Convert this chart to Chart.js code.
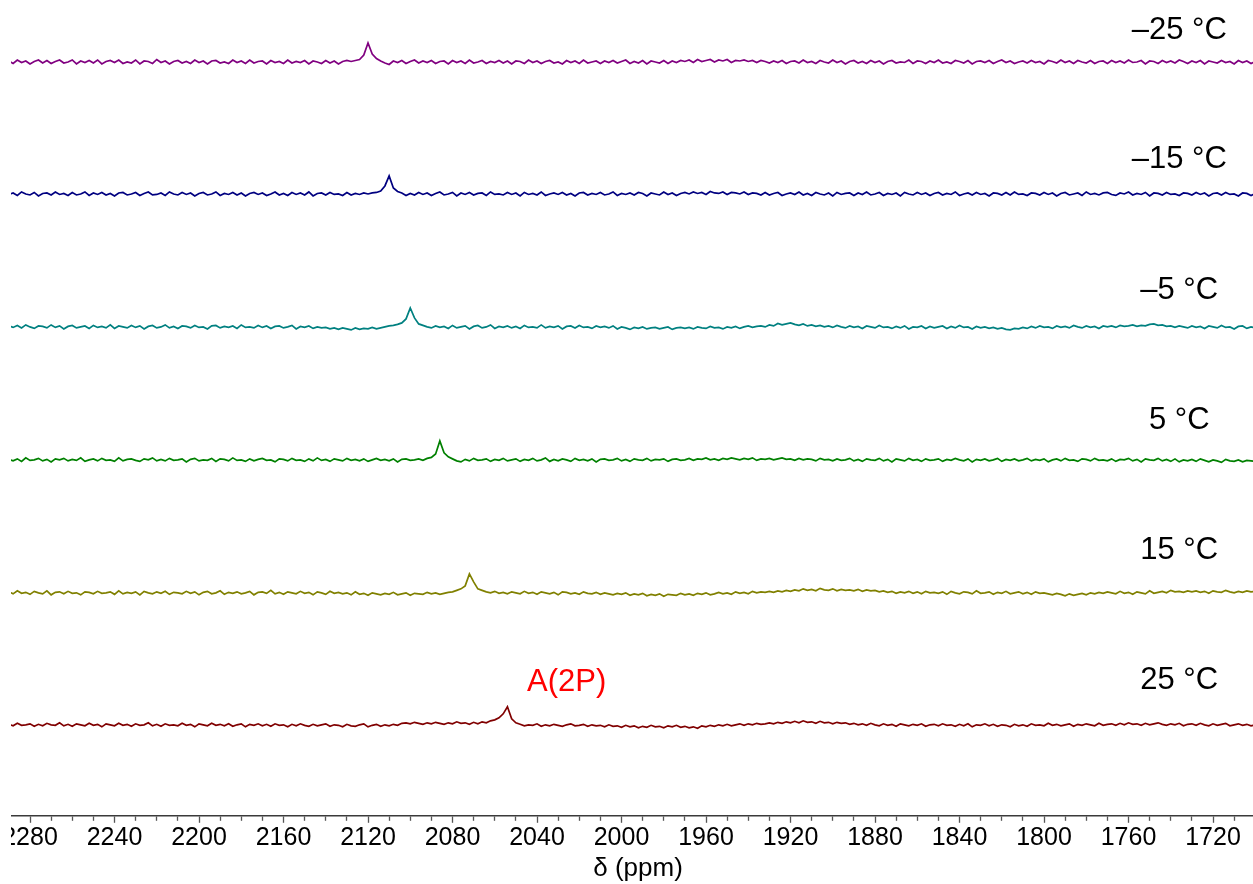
<!DOCTYPE html>
<html>
<head>
<meta charset="utf-8">
<script src="https://cdn.jsdelivr.net/npm/chart.js@4.4.1/dist/chart.umd.min.js"></script>
<style>
  html, body { margin: 0; padding: 0; background: #fff; overflow: hidden; width: 1253px; height: 884px; }
  #wrap { position: absolute; left: 11px; top: 0; width: 1242px; height: 884px; overflow: hidden; }
  #c { position: absolute; left: -51px; top: 0; }
</style>
</head>
<body>
<div id="wrap"><canvas id="c" width="1356" height="884"></canvas></div>
<script>
// ---- Data ----
// chemical shift grid: first point and step (ppm), points run left to right
const ppmFirst = 2290;
const ppmStep = 2;
const seriesNames = ['–25 °C', '–15 °C', '–5 °C', '5 °C', '15 °C', '25 °C'];
const peakLabel = 'A(2P)';
const tickLabelValues = [2280, 2240, 2200, 2160, 2120, 2080, 2040, 2000, 1960, 1920, 1880, 1840, 1800, 1760, 1720];

const intensityM25 = [
 1,-1.5,2,-0.5,1,-2,0.5,2,-1,1.5,-1.5,0.5,2,-1,0,2,-2,1,-0.5,1.5,
 -1,2,-2,0.5,1.5,-0.5,2,-1.5,0,-1,2,-2,1,0.5,-1.5,2.5,-0.5,1,-2,0.5,
 1.5,-1,0.5,-1.5,2,-0.5,1,-2,1,1.5,-1,0,-1.5,2,-0.5,1,-1.5,2,-1,0.5,
 1,-2,1.5,-0.5,0.5,-1.5,2,-1,0.5,-0.5,1.5,-2,1,0,-1.5,1.5,-1,1,-2,0.5,
 1.5,0.5,1.5,2.5,7,19,8,3.5,1,-1,-2.5,1,-0.5,1.5,-1.5,0.5,2,-1,1,-0.5,
 1.5,-1.5,0.5,1,-2,1.5,-0.5,1,-1.5,2,-1,0,1.5,-1.5,0.5,-0.5,1.5,-1,1,-2,
 1,0.5,-1.5,2,-0.5,1,-1.5,0.5,1.5,-1,0,-2,1.5,-0.5,1,-1.5,2,-1,0,1,
 -1.5,1,-0.5,1.5,-1,0.5,2,-1.5,0.5,-1,1.5,-2,1,0,-1,1.5,-1.5,1,-0.5,1.5,
 0.5,2,-0.5,2.5,0.5,1.5,2.5,0,2,1,2.5,-0.5,1.5,1,2,0.5,1.5,-0.5,1.5,0.5,
 -1,1,-0.5,1.5,-1.5,0.5,1,-1,2,-0.5,0.5,-1.5,1.5,0,-1,2,-0.5,1,-2,0.5,
 1.5,-1,0.5,-1.5,1.5,-0.5,1,-2,0.5,1.5,-1,0,-0.5,2,-1.5,1,0.5,-1.5,1,-0.5,
 2,-1,0,-1.5,1.5,0.5,-1,1.5,-2,0.5,1,-0.5,1.5,-1.5,0.5,2,-0.5,1,-1.5,0,
 1,-1,1.5,-0.5,0.5,-2,1.5,0.5,-1,2,-0.5,1,-1.5,1.5,0,-1,1.5,-1.5,0.5,1,
 -1.5,1.5,-0.5,1,-1,2,-0.5,0,1.5,-2,1,0.5,-1.5,1.5,-0.5,1,-1,2,0.5,-1.5,
 1,-0.5,1.5,-2,1,0,-1,1.5,-0.5,0.5,-2,1.5,-0.5,1,-1.5,0.5
];
const intensityM15 = [
 -0.5,1,-1.5,2,0,-1,1.5,-2,0.5,1,-1,2,-0.5,0.5,-1.5,1.5,-1,0,2,-1.5,
 1,-0.5,1.5,-1,0.5,-2,1,1.5,-1,0,1.5,-1.5,0.5,2,-1,-0.5,1,-1.5,2,0,
 -1,1.5,-0.5,1,-2,0.5,1.5,-1,0,2,-1.5,0.5,-0.5,1.5,-1,1,-2,0.5,1.5,-0.5,
 1,-1.5,0,2,-1,0.5,-1.5,1.5,-0.5,1,-1,2,-2,0.5,1,-1,1.5,-0.5,0,-1.5,
 1.5,-1,0.5,-0.5,1,0,1,1.5,3,8,18,6,2.5,1,-1.5,0.5,-1,1.5,-0.5,1,
 -1.5,0.5,2,-1,0,1.5,-2,1,-0.5,1.5,-1,0.5,1,-1.5,2,-0.5,0,-1,1.5,-0.5,
 1,-2,1.5,-0.5,0.5,-1,2,-1.5,0,1,-0.5,1.5,-1,0.5,-2,1,1.5,-1,0.5,-0.5,
 1.5,-1,0,2,-1.5,0.5,-0.5,1,-1,1.5,0.5,-2,1,0,-1,2,-0.5,1,-1.5,0.5,
 1.5,0,2,0.5,1.5,-0.5,2.5,1,0.5,2,-0.5,1.5,1,0,2,-0.5,1,0.5,-1,1.5,
 -1,0.5,1.5,-1.5,0,1,-0.5,2,-1,0.5,-1.5,1.5,0,-1,1,-2,1.5,-0.5,0.5,1,
 -1.5,1,-0.5,2,-1,0,1.5,-1.5,0.5,-0.5,1,-2,1.5,0,-1,1.5,-0.5,1,-1.5,0.5,
 1.5,-1,0.5,-0.5,2,-1.5,0,1,-1,1.5,-0.5,0.5,-2,1,0.5,-1,1.5,-1,2,-0.5,
 0,-1.5,1,0.5,-1,1.5,-0.5,1,-2,0.5,1.5,-1,0,1,-1.5,2,-0.5,0.5,-1,1,
 1.5,-0.5,-1.5,1,0,2,-1,0.5,-0.5,1.5,-2,1,0.5,-1,1.5,-0.5,0,-1.5,1,0.5,
 -1,1.5,-0.5,1,-2,0.5,1,-1,1.5,-0.5,0,-2,1,0.5,-1.5,0.5
];
const intensityM5 = [
 1,-0.5,1.5,-1,2,0,-1.5,1,0.5,-1,2,-0.5,1,-2,0.5,1.5,-1,0,1,-1.5,
 1.5,-0.5,0.5,-1,2,-1.5,1,0,-1,1.5,-0.5,1,-2,0.5,1.5,-1,0,2,-1,0.5,
 -1.5,1,0.5,-1,1.5,-0.5,0,-2,1,1.5,-1,0.5,-0.5,1,-1.5,2,-0.5,0,-1,1.5,
 -0.5,1,-1.5,0.5,1,-1,0,1.5,-2,0.5,-0.5,1,-1.5,0,-1,-0.5,-2,-1,-2.5,-1,
 -2,-3,-1,-2.5,-1.5,-2,-0.5,-2,-1,0,1,1.5,2.5,4,8,19,9,3,1.5,0,
 -1,1,-0.5,0.5,-1.5,1.5,-1,0,1,-2,0.5,1.5,-1,0,2,-1.5,0.5,-0.5,1,-1,
 0.5,-1.5,1.5,-0.5,0,-1,2,-1,0.5,-0.5,1,-2,0.5,1,-1,1.5,-0.5,0,-1.5,1,
 -0.5,0.5,-1,1,-2,0,-1,-2.5,-0.5,-1.5,0,-2,-1,-0.5,-2,-1,0,-2.5,-1,-0.5,
 -1.5,-0.5,-2,0,-1,-1.5,0.5,-1,-0.5,-2,0,-1,0.5,-1.5,0,1,-0.5,0.5,1,0,
 2,1,3.5,2,3,4,2.5,1.5,3,1,2,0.5,1.5,0,1,-0.5,1.5,0,-1,1,
 -0.5,0.5,-1.5,1,0,-1,1.5,-0.5,0,-1.5,0.5,-1,1,-2,0,-0.5,1,-1.5,0.5,-1,
 0,1,-1.5,0.5,-1,1.5,-0.5,0,-2,0.5,-1,0,-1.5,-0.5,-2,-1,-2.5,-3,-1.5,-2,
 -0.5,-1.5,0.5,-1,1,-0.5,0,-1.5,1,-0.5,0.5,-1,1.5,0,-1,1,-0.5,0.5,-1.5,1,
 0,1,-0.5,1.5,0.5,1,2,0.5,1.5,1,2.5,3,1.5,2,0.5,1,-0.5,1,0,-1,
 1,-0.5,0.5,-1.5,1,0,-1,1.5,-0.5,0,-2,0.5,1,-1.5,0,-1
];
const intensityP5 = [
 0.5,-1,1,-1.5,2,-0.5,0,1.5,-1,0.5,-2,1,0,1.5,-1,0.5,-0.5,2,-1.5,0,
 1,-1,1.5,-0.5,0,-1.5,2,-1,0.5,1,-0.5,-1.5,1,0,2,-1,0.5,-1,1.5,-0.5,
 0,1,-2,0.5,1.5,-1,0,-0.5,1.5,-1.5,1,0.5,-1,2,-0.5,0,-1.5,1,-1,0.5,
 1.5,-0.5,0,-2,1,0.5,-1,1.5,-0.5,0,-1.5,1,-1,2,-0.5,0.5,-1.5,1,0,-1,
 1.5,-0.5,0.5,-1,1,-1.5,0,1.5,-0.5,0.5,-1,1,-2,0.5,1,-0.5,0,1,-0.5,1.5,
 2.5,6,19,7,3,1,-1,-2,0.5,-1,1.5,-0.5,0,1,-1.5,0.5,-0.5,1.5,-1,0,
 1,-1.5,0.5,-0.5,1.5,-1,0,2,-1.5,0.5,-1,1,0,-1.5,1.5,-0.5,0.5,-1,1,-2,
 0.5,1,-0.5,0,1.5,-1,0.5,-1.5,1,0,-0.5,1.5,-1,0.5,0,1,-1.5,0.5,1,-0.5,
 0,1.5,-0.5,1,0.5,2,0,1,-0.5,1.5,0.5,2,1,0,1.5,0.5,2,-0.5,1,0.5,
 1.5,0,1,2,0.5,1,-0.5,1.5,0,1,0.5,-1,1.5,0,0.5,-1,1,-0.5,0,1.5,
 -1,0.5,-1.5,1,0,-0.5,1.5,-1,0.5,-2,1,0,-1,1.5,-0.5,0.5,-1.5,1,-0.5,0,
 1,-1.5,0.5,-0.5,1.5,0,-1,1,-2,0.5,-0.5,1,-1,0,1.5,-1.5,0.5,-0.5,1,-1,
 0,1.5,-1,0.5,-0.5,1,-2,0,1,-1,1.5,-0.5,0,-1.5,1,0.5,-1,1.5,-0.5,0,
 -1,1,-1.5,0.5,0,1.5,-1,0.5,-2,1,0,-0.5,1.5,-1,0.5,-1.5,1,-2,0,-1,
 0.5,-1.5,1,-0.5,-2,0,-1,-2.5,0.5,-1,-1.5,0,-2,-0.5,-1,-1.5
];
const intensityP15 = [
 1,-1,2,-0.5,0.5,-1.5,1.5,0,-1,2,-2,0.5,1,-1,1.5,-0.5,0,-2,1,0.5,
 -1,1.5,-0.5,0,1,-1.5,2,-1,0.5,-0.5,1,-2,1.5,0,-1,1,-0.5,1.5,-1.5,0.5,
 0,-1,1.5,-0.5,1,-2,0.5,1.5,-1,0,2,-1.5,0.5,-0.5,1,-1,0,1.5,-2,0.5,
 1,-0.5,2.5,-1,0.5,-1.5,1,0,-1,1.5,-0.5,0.5,-2,1,0,-1.5,1.5,-0.5,0.5,-1,
 0,-2,1,-1.5,-0.5,-2.5,0,-1,-2,-0.5,-1.5,0.5,-2,-1,0,-2.5,-0.5,-1,-1.5,0.5,
 -1,0,-1.5,-0.5,0.5,1,2.5,4,7,19,11,4,2.5,1,0,1.5,-0.5,0.5,-1,1,
 0,-1,1.5,-0.5,0.5,-1.5,1,0,-1,0.5,-2,1,0.5,-1,0,-1.5,1,-0.5,-1,0.5,
 -1.5,0,-1,-2,-0.5,-1.5,0,-2.5,-1,-2,-0.5,-3,-1.5,-2.5,-1,-3.5,-1.5,-2,-2.5,-0.5,
 -2,-1,-2.5,-0.5,-1.5,0,-2,-1,0.5,-1,0,-1.5,1,-0.5,0.5,-1,1.5,0,1,0.5,
 1.5,0.5,2,1,2.5,1.5,3,2,4,2.5,3.5,2,4.5,3,2.5,4,2,3.5,2.5,3,
 2,3.5,1.5,3,2,2.5,1,2,0.5,1.5,-0.5,1,0,1.5,-0.5,1,-1,1.5,0,0.5,
 -0.5,1,-1.5,1.5,0,-1,1,0.5,-1,2,-0.5,0,1,-1.5,0.5,-0.5,1.5,-1,0,1,
 -1,0.5,-1.5,1,-0.5,0,-1,-2,-0.5,-1.5,-3,-1,-2.5,-1.5,-0.5,-2,0,-1,0.5,-0.5,
 1,0,-1,1.5,-0.5,0.5,-1.5,1,0,-1,2,-0.5,0.5,1.5,0,2.5,1,1.5,0.5,2,
 1,2,0.5,1.5,-0.5,2,1,0.5,2.5,1,0,1.5,0.5,2,1,1.5
];
const intensityP25 = [
 0.5,-1,1.5,-0.5,0,1,-1.5,0.5,-1,1.5,0,-0.5,2,-1,0.5,-1.5,1,0,-1,1.5,
 -0.5,0.5,-2,1,0,-1,1.5,-0.5,0.5,-1.5,1,-0.5,0,2,-1,0.5,-1.5,1,-0.5,0,
 -1,1.5,-0.5,0.5,-2,1,0,-1,1.5,-0.5,0.5,-1,1,-1.5,0,1,-2,0.5,-0.5,1,
 -1,0.5,-1.5,1,-0.5,0,-2,0.5,-1,1,-0.5,-1.5,0.5,-1,0,1,-1.5,0,-0.5,-2,
 0.5,-1,-1.5,0,1,-2,-0.5,0.5,-1.5,0,-1,0.5,-0.5,1.5,2,1,2.5,1.5,0.5,2,
 1,2.5,1.5,0.5,2,1,3,1.5,2,0.5,2.5,1,3,2,4,5,7,11,18,6,
 2,0.5,-1,0,-0.5,1,-1.5,0,-1,0.5,-0.5,-1.5,0,1,-1,-0.5,0.5,-1.5,0,-1,
 -0.5,-2,0,-1.5,-1,-2.5,-0.5,-2,-1,-3,-1.5,-2.5,-0.5,-2,-1.5,-3,-1,-2,-0.5,-2.5,
 -1.5,-3,-2,-3.5,-1,-2,-0.5,-1.5,0,-1,0.5,-1,0,1,-0.5,1,0,1.5,0.5,1,
 2,1,2.5,1.5,3,2,3.5,2,4,2.5,3,1.5,3.5,2,2.5,1,2.5,1.5,2,0.5,
 1.5,0,1,-0.5,1.5,0,-1,1,-0.5,0.5,-1.5,1,0,-1,0.5,-0.5,1,-1.5,0,0.5,
 -1,1,-0.5,0,-1.5,0.5,-1,1,-2,0,-0.5,1,-1,0.5,-1.5,0,-0.5,-2,0.5,-1,
 0,-1.5,1,-0.5,0,-1,1.5,-0.5,0.5,-1,0,1,-1.5,0.5,-0.5,1,0,-1,1.5,-0.5,
 0.5,1,-0.5,1.5,0,2,0.5,1,-0.5,1.5,0,1,2,0.5,-0.5,1,0,1.5,-1,0.5,
 1,-0.5,1.5,0,-1,1,-0.5,0.5,1.5,-1,0,1,-0.5,0.5,-1,0
];

// ---- Layout / style ----
const seriesData = [intensityM25, intensityM15, intensityM5, intensityP5, intensityP15, intensityP25];
const seriesColors = ['#800080', '#000080', '#008080', '#008000', '#808000', '#800000'];
const stackOffsets = [754, 622, 489, 356, 223, 91];           // vertical stacking of the spectra
const nameAnchors = [[1736, 786], [1736, 657], [1736, 525], [1736, 395], [1736, 265], [1736, 135]];
const peakLabelAnchor = [2026, 133];
const FONT = "'Liberation Sans', Arial, Helvetica, sans-serif";

const datasets = seriesData.map((arr, k) => ({
  label: seriesNames[k],
  data: arr.map((v, i) => ({ x: ppmFirst - i * ppmStep, y: stackOffsets[k] + v })),
  borderColor: seriesColors[k],
  borderWidth: 1.7,
  pointRadius: 0,
  tension: 0,
  fill: false
}));

const textPlugin = {
  id: 'texts',
  afterDatasetsDraw(chart) {
    const { ctx, scales: { x, y } } = chart;
    ctx.save();
    ctx.textAlign = 'center';
    ctx.textBaseline = 'middle';
    ctx.font = '31px ' + FONT;
    ctx.fillStyle = '#000';
    seriesNames.forEach((n, k) => {
      ctx.fillText(n, x.getPixelForValue(nameAnchors[k][0]), y.getPixelForValue(nameAnchors[k][1]));
    });
    ctx.fillStyle = '#ff0000';
    ctx.fillText(peakLabel, x.getPixelForValue(peakLabelAnchor[0]), y.getPixelForValue(peakLabelAnchor[1]));
    ctx.restore();
  },
  afterDraw(chart) {
    // shorten the minor tick marks
    const { ctx, scales: { x }, chartArea } = chart;
    ctx.save();
    ctx.fillStyle = '#fff';
    x.ticks.forEach(t => {
      if (Math.round(t.value) % 40 !== 0) {
        const px = x.getPixelForValue(t.value);
        ctx.fillRect(px - 2, chartArea.bottom + 5, 4, 3);
      }
    });
    ctx.restore();
  }
};

new Chart(document.getElementById('c'), {
  type: 'line',
  data: { datasets },
  options: {
    responsive: false,
    animation: false,
    devicePixelRatio: 1,
    layout: { padding: 0 },
    plugins: { legend: { display: false }, tooltip: { enabled: false } },
    scales: {
      x: {
        type: 'linear',
        reverse: true,
        min: 1671.25,
        max: 2313.14,
        border: { display: true, color: '#3a3a3a', width: 1.5 },
        grid: { display: true, drawOnChartArea: false, drawTicks: true, tickLength: 7, tickColor: '#555', tickWidth: 1.3 },
        ticks: {
          stepSize: 10,
          includeBounds: false,
          autoSkip: false,
          maxRotation: 0,
          padding: 0,
          color: '#000',
          font: { family: FONT, size: 25 },
          callback: (v) => tickLabelValues.includes(Math.round(v)) ? String(Math.round(v)) : ''
        },
        title: {
          display: true,
          text: 'δ (ppm)',
          color: '#000',
          font: { family: FONT, size: 26 },
          padding: { top: 0, bottom: 0 }
        }
      },
      y: { display: false, min: 0, max: 816 }
    }
  },
  plugins: [textPlugin]
});
</script>
</body>
</html>
